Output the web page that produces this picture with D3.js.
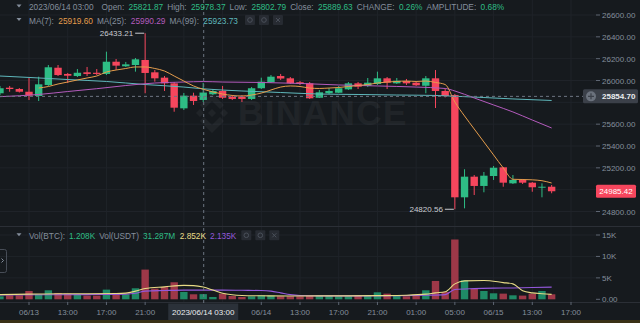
<!DOCTYPE html>
<html>
<head>
<meta charset="utf-8">
<script src="https://cdn.jsdelivr.net/npm/d3@7"></script>
<style>
    html, body { margin: 0; padding: 0; background: #161a1e; overflow: hidden; }
    svg { display: block; font-family: "Liberation Sans", Arial, sans-serif; }
</style>
</head>
<body>
<svg id="chart"></svg>
<script>
// Hourly BTC/USDT candles, hour index 0 = "06/13" tick, first visible candle = -3
const firstHour = -3;
const opens  = [25883, 25934, 25922, 25897, 25858, 25959, 26117, 26060, 26041, 26075, 26071, 26060, 26172, 26130, 26142, 26188, 26075, 26026, 25974, 25745, 25861, 25821.87, 25874, 25904, 25852, 25852, 25831, 25929, 25984, 26041, 26020, 25984, 25974, 25842, 25883, 25888, 25919, 25974, 25950, 25968, 26020, 25974, 25995, 25980, 25952, 26020, 25904, 25867, 24930, 25119, 25034, 25125, 25205, 25058, 25089, 25064, 25022, 25027];
const highs  = [25950, 25950, 25931, 26023, 26035, 26142, 26142, 26069, 26105, 26124, 26105, 26264, 26197, 26170, 26206, 26433.21, 26096, 26041, 25986, 25886, 25888, 25978.37, 25922, 25950, 25867, 25867, 25940, 26026, 26050, 26060, 26032, 25995, 25986, 25913, 25931, 25950, 25986, 25986, 26023, 26081, 26032, 26023, 26014, 25995, 26041, 26096, 25922, 25876, 25187, 25134, 25162, 25217, 25208, 25134, 25098, 25070, 25058, 25043];
const lows   = [25867, 25897, 25890, 25821, 25812, 25950, 26041, 25977, 26032, 26041, 26050, 26050, 26096, 26124, 26081, 25883, 25989, 25904, 25714, 25730, 25776, 25802.79, 25867, 25831, 25821, 25803, 25821, 25922, 25977, 26005, 25968, 25959, 25831, 25840, 25876, 25885, 25913, 25922, 25940, 25959, 25922, 25968, 25959, 25950, 25883, 25748, 25845, 24820.56, 24829, 24951, 24976, 25089, 25027, 25052, 25052, 24981, 24930, 24967];
const closes = [25929, 25922, 25897, 25861, 25965, 26121, 26050, 26044, 26071, 26060, 26060, 26172, 26136, 26148, 26194, 26069, 26020, 25974, 25751, 25861, 25812, 25889.63, 25904, 25842, 25831, 25831, 25929, 25989, 26035, 26018, 25974, 25968, 25837, 25892, 25904, 25929, 25974, 25943, 25980, 26020, 25980, 25998, 25974, 25956, 26020, 25904, 25858, 24930, 25119, 25034, 25128, 25201, 25064, 25089, 25064, 25022, 25027, 24985.42];
const volumes = [700, 930, 930, 1940, 1170, 2100, 1480, 1320, 1170, 860, 860, 2260, 1480, 1170, 2570, 6930, 2490, 2880, 3970, 1710, 1170, 1208, 540, 1320, 780, 540, 700, 930, 860, 700, 700, 700, 860, 860, 860, 700, 700, 860, 930, 1630, 1320, 860, 700, 860, 2100, 4280, 1710, 13950, 4440, 2490, 1940, 1400, 1320, 930, 860, 1320, 1940, 1170];

// Moving averages: [hour, value]
const ma7 = [[1, 25931], [2, 25945], [3, 25968], [4, 25986], [5, 26005], [6, 26023], [7, 26041], [8, 26078], [9, 26096], [10, 26110], [11, 26124], [12, 26124], [13, 26110], [14, 26087], [15, 26041], [16, 25995], [17, 25950], [18, 25919.6], [19, 25895], [20, 25876], [21, 25863], [22, 25858], [23, 25867], [24, 25885], [25, 25913], [26, 25940], [27, 25950], [28, 25945], [29, 25931], [30, 25927], [31, 25931], [32, 25936], [33, 25945], [34, 25954], [35, 25963], [36, 25977], [37, 25986], [38, 25991], [39, 25995], [40, 25991], [41, 25995], [42, 25982], [43, 25963], [44, 25803], [45, 25675], [46, 25556], [47, 25437], [48, 25318], [49, 25199], [50, 25095], [51, 25093], [52, 25090], [53, 25082], [54, 25061]];
const ma25 = [[-3, 25852], [1, 25872], [4, 25899], [7, 25925], [10, 25954], [13, 25977], [16, 25986], [18, 25990.29], [20, 25986], [24, 25982], [28, 25973], [32, 25959], [36, 25950], [40, 25940], [43, 25927], [44, 25904], [46, 25840], [48, 25776], [50, 25712], [52, 25638], [54, 25565]];
const ma99 = [[-3, 26041], [0, 26028], [4, 26009], [8, 25991], [12, 25963], [16, 25940], [18, 25923.73], [22, 25904], [26, 25890], [30, 25876], [34, 25872], [38, 25867], [42, 25863], [44, 25856], [47, 25844], [50, 25831], [54, 25817]];
const volMaFast = [[-3, 1100], [0, 1200], [3, 1300], [6, 1300], [9, 1350], [10, 1450], [11, 1900], [12, 2500], [14, 2900], [16, 3250], [17, 3200], [18, 2852], [19, 2150], [20, 1400], [21, 1050], [22, 900], [24, 820], [27, 780], [30, 800], [33, 800], [36, 850], [39, 950], [41, 1200], [42, 1500], [43, 1750], [44, 3600], [45, 4300], [47, 4400], [49, 3900], [50, 3600], [51, 2000], [52, 1500], [53, 1300], [54, 1150]];
const volMaSlow = [[-3, 1000], [2, 1050], [6, 1100], [10, 1200], [11, 1400], [12, 1900], [14, 2050], [16, 2150], [18, 2135], [20, 2150], [22, 2100], [24, 2050], [25, 1900], [26, 1500], [27, 1100], [28, 900], [30, 800], [34, 800], [38, 850], [41, 950], [43, 1100], [44, 2300], [46, 2500], [48, 2600], [50, 2650], [52, 2750], [54, 2850]];

const timeTicks = [[0, '06/13'], [4, '13:00'], [8, '17:00'], [12, '21:00'], [16, '01:00'], [20, '05:00'], [24, '06/14'], [28, '13:00'], [32, '17:00'], [36, '21:00'], [40, '01:00'], [44, '05:00'], [48, '06/15'], [52, '13:00'], [56, '17:00']];
const priceTicks = [24800, 25000, 25200, 25400, 25600, 25800, 26000, 26200, 26400, 26600];
const volTicks = [0, 5000, 10000, 15000];
const volTickLabels = ['0.00', '5K', '10K', '15K'];

const crossHour = 18;
const crossLabel = '2023/06/14 03:00';
const crossPrice = 25854.70;
const volUsdt = '31.287M';

const W = 640, H = 323;
const chartRight = 596;
const colors = {
    bg: '#161a1e', grid: '#1f2329', text: '#848e9c', up: '#2ebd85', down: '#f6465d',
    volUp: '#1f8a66', volDown: '#9e3848', ma7: '#e59d4c', ma25: '#b45bbd', ma99: '#5fb8bc',
    volFast: '#e8dc86', volSlow: '#9458dc', cross: '#6d7582'
};

const candles = opens.map((o, k) => ({
    hour: firstHour + k, open: o, high: highs[k], low: lows[k], close: closes[k], vol: volumes[k]
}));

const x = d3.scaleLinear().domain([0, 56]).range([29, 571]);
const y = d3.scaleLinear().domain([24800, 26600]).range([211.5, 15]);
const yVol = d3.scaleLinear().domain([0, 15000]).range([299.3, 235]);
const bodyW = 7.4;

const svg = d3.select('#chart').attr('width', W).attr('height', H);
svg.append('rect').attr('width', W).attr('height', H).attr('fill', colors.bg);

svg.append('defs').append('clipPath').attr('id', 'clip')
    .append('rect').attr('width', chartRight).attr('height', 302);

// Grid
const grid = svg.append('g');
grid.selectAll('line.vg').data(timeTicks).enter().append('line')
    .attr('x1', d => x(d[0])).attr('x2', d => x(d[0]))
    .attr('y1', 0).attr('y2', 302)
    .attr('stroke', colors.grid);
grid.selectAll('line.hg').data(priceTicks).enter().append('line')
    .attr('x1', 0).attr('x2', chartRight)
    .attr('y1', d => y(d)).attr('y2', d => y(d))
    .attr('stroke', colors.grid);
grid.selectAll('line.vhg').data(volTicks.slice(1)).enter().append('line')
    .attr('x1', 0).attr('x2', chartRight)
    .attr('y1', d => yVol(d)).attr('y2', d => yVol(d))
    .attr('stroke', colors.grid);

// Pane borders
svg.append('line').attr('x1', 0).attr('x2', W).attr('y1', 226.5).attr('y2', 226.5).attr('stroke', '#2b2f36');
svg.append('line').attr('x1', 0).attr('x2', W).attr('y1', 302.5).attr('y2', 302.5).attr('stroke', '#2b2f36');
svg.append('rect').attr('x', 0).attr('y', 320).attr('width', W).attr('height', 3).attr('fill', '#3a3116');

// Watermark
const wm = svg.append('g').attr('opacity', 0.045).attr('fill', '#ffffff');
const logo = wm.append('g').attr('transform', 'translate(212,113) scale(20)');
[
    [[0, -1], [0.6, -0.4], [0.4, -0.2], [0, -0.6], [-0.4, -0.2], [-0.6, -0.4]],
    [[0, 1], [0.6, 0.4], [0.4, 0.2], [0, 0.6], [-0.4, 0.2], [-0.6, 0.4]],
    [[0, -0.2], [0.2, 0], [0, 0.2], [-0.2, 0]],
    [[-0.6, -0.2], [-0.4, 0], [-0.6, 0.2], [-0.8, 0]],
    [[0.6, -0.2], [0.8, 0], [0.6, 0.2], [0.4, 0]]
].forEach(p => logo.append('polygon').attr('points', p.map(q => q.join(',')).join(' ')));
wm.append('text').attr('x', 238).attr('y', 125).attr('font-size', 35).attr('font-weight', 'bold')
    .attr('letter-spacing', 1.5).text('BINANCE');

const body = svg.append('g').attr('clip-path', 'url(#clip)');

// Volume bars
body.selectAll('rect.vol').data(candles).enter().append('rect')
    .attr('x', d => x(d.hour) - bodyW / 2)
    .attr('width', bodyW)
    .attr('y', d => yVol(d.vol))
    .attr('height', d => yVol(0) - yVol(d.vol))
    .attr('fill', d => d.close >= d.open ? colors.volUp : colors.volDown);

// Candles
const cg = body.selectAll('g.candle').data(candles).enter().append('g');
cg.append('line')
    .attr('x1', d => x(d.hour)).attr('x2', d => x(d.hour))
    .attr('y1', d => y(d.high)).attr('y2', d => y(d.low))
    .attr('stroke', d => d.close >= d.open ? colors.up : colors.down)
    .attr('stroke-width', 1);
cg.append('rect')
    .attr('x', d => x(d.hour) - bodyW / 2)
    .attr('width', bodyW)
    .attr('y', d => y(Math.max(d.open, d.close)))
    .attr('height', d => Math.max(1, Math.abs(y(d.open) - y(d.close))))
    .attr('fill', d => d.close >= d.open ? colors.up : colors.down);

// MA lines
const maLine = d3.line().x(d => x(d[0])).y(d => y(d[1])).curve(d3.curveMonotoneX);
const volLine = d3.line().x(d => x(d[0])).y(d => yVol(d[1])).curve(d3.curveMonotoneX);
[[ma99, colors.ma99], [ma25, colors.ma25], [ma7, colors.ma7]].forEach(([data, c]) => {
    body.append('path').attr('d', maLine(data)).attr('fill', 'none')
        .attr('stroke', c).attr('stroke-width', 1);
});
[[volMaSlow, colors.volSlow], [volMaFast, colors.volFast]].forEach(([data, c]) => {
    body.append('path').attr('d', volLine(data)).attr('fill', 'none')
        .attr('stroke', c).attr('stroke-width', 1.1);
});

// High / low markers
const hiC = candles.reduce((a, b) => b.high > a.high ? b : a);
const loC = candles.reduce((a, b) => b.low < a.low ? b : a);
[[hiC, hiC.high], [loC, loC.low]].forEach(([c, v]) => {
    const cx = x(c.hour), cy = y(v);
    svg.append('line').attr('x1', cx - 10).attr('x2', cx - 1).attr('y1', cy).attr('y2', cy)
        .attr('stroke', '#c9ccd1');
    svg.append('text').attr('x', cx - 12).attr('y', cy + 3).attr('text-anchor', 'end')
        .attr('font-size', 8).attr('fill', '#c9ccd1').text(v.toFixed(2));
});

// Crosshair
svg.append('line').attr('x1', x(crossHour) + 0.5).attr('x2', x(crossHour) + 0.5)
    .attr('y1', 0).attr('y2', 303)
    .attr('stroke', colors.cross).attr('stroke-dasharray', '3,3');
svg.append('line').attr('x1', 0).attr('x2', 583)
    .attr('y1', y(crossPrice)).attr('y2', y(crossPrice))
    .attr('stroke', colors.cross).attr('stroke-dasharray', '3,3');

// Right axis (labels under the price boxes are covered, as in the app)
const last = candles[candles.length - 1];
const covered = [y(last.close), y(crossPrice)];
const axis = svg.append('g').attr('font-size', 8).attr('fill', colors.text);
priceTicks.forEach(t => {
    axis.append('line').attr('x1', chartRight).attr('x2', chartRight + 4)
        .attr('y1', y(t)).attr('y2', y(t)).attr('stroke', '#5e6673');
    if (covered.some(c => Math.abs(c - y(t)) < 12)) return;
    axis.append('text').attr('x', 602).attr('y', y(t) + 3).text(t.toFixed(2));
});
volTicks.forEach((t, k) => {
    axis.append('line').attr('x1', chartRight).attr('x2', chartRight + 4)
        .attr('y1', yVol(t)).attr('y2', yVol(t)).attr('stroke', '#5e6673');
    axis.append('text').attr('x', 602).attr('y', yVol(t) + 3).text(volTickLabels[k]);
});

// Last price label
svg.append('rect').attr('x', 596).attr('y', y(last.close) - 6.5).attr('width', 40).attr('height', 13)
    .attr('rx', 1.5).attr('fill', colors.down);
svg.append('text').attr('x', 616).attr('y', y(last.close) + 3).attr('text-anchor', 'middle')
    .attr('font-size', 8).attr('fill', '#ffffff').text(last.close.toFixed(2));

// Crosshair price label
const cpy = y(crossPrice);
svg.append('rect').attr('x', 583).attr('y', cpy - 7).attr('width', 55).attr('height', 14)
    .attr('rx', 1.5).attr('fill', '#3b4049');
svg.append('circle').attr('cx', 591).attr('cy', cpy).attr('r', 5).attr('fill', '#6b727d');
svg.append('path').attr('d', `M588,${cpy}H594M591,${cpy - 3}V${cpy + 3}`)
    .attr('stroke', '#3b4049').attr('stroke-width', 1.2);
svg.append('text').attr('x', 602).attr('y', cpy + 3).attr('font-size', 8).attr('font-weight', 'bold')
    .attr('fill', '#eaecef').text(crossPrice.toFixed(2));

// Time axis
const tx = svg.append('g').attr('font-size', 8).attr('fill', colors.text).attr('text-anchor', 'middle');
const boxL = x(crossHour) - 35, boxR = x(crossHour) + 35;
timeTicks.forEach(([h, label]) => {
    const px = x(h);
    if (px > boxL - 12 && px < boxR + 12) return;
    tx.append('line').attr('x1', px).attr('x2', px).attr('y1', 302).attr('y2', 305).attr('stroke', '#5e6673');
    tx.append('text').attr('x', px).attr('y', 314.5).text(label);
});
svg.append('rect').attr('x', boxL).attr('y', 303.5).attr('width', boxR - boxL).attr('height', 16.5)
    .attr('fill', '#2b3139');
svg.append('text').attr('x', x(crossHour)).attr('y', 314.5).attr('text-anchor', 'middle')
    .attr('font-size', 8).attr('fill', '#eaecef').text(crossLabel);

// Side tab
svg.append('rect').attr('x', -3).attr('y', 249.5).attr('width', 9.5).attr('height', 23).attr('rx', 2)
    .attr('fill', 'none').attr('stroke', '#474d57');
svg.append('path').attr('d', 'M1.5,258.5 L3.5,260.5 L1.5,262.5').attr('fill', 'none').attr('stroke', '#848e9c');

// Headers: pieces are chained left to right; [text, colour, gap before]
const cc = candles.find(d => d.hour === crossHour);
const fmt = v => v.toFixed(2);
const change = (cc.close - cc.open) / cc.open * 100;
const amp = (cc.high - cc.low) / cc.open * 100;
const ccColor = cc.close >= cc.open ? colors.up : colors.down;

function header(yb, parts, iconGap) {
    const g = svg.append('g').attr('font-size', 8.3);
    g.append('path').attr('d', `M16.5,${yb - 5.5} L21.5,${yb - 5.5} L19,${yb - 2.5} Z`).attr('fill', colors.text);
    let px = 29;
    parts.forEach(([t, c, gap]) => {
        px += gap;
        const node = g.append('text').attr('x', px).attr('y', yb).attr('fill', c).text(t);
        px += node.node().getComputedTextLength();
    });
    if (iconGap === undefined) return;
    px += iconGap;
    [0, 1, 2].forEach(k => {
        const ix = px + k * 14;
        g.append('rect').attr('x', ix).attr('y', yb - 8.5).attr('width', 10).attr('height', 10)
            .attr('rx', 1).attr('fill', '#272b32');
        if (k === 2) {
            g.append('path').attr('d', `M${ix + 3},${yb - 5.5} L${ix + 7},${yb - 1.5} M${ix + 7},${yb - 5.5} L${ix + 3},${yb - 1.5}`)
                .attr('stroke', '#4a505a').attr('stroke-width', 1);
        } else {
            g.append('circle').attr('cx', ix + 5).attr('cy', yb - 3.5).attr('r', 2.3)
                .attr('fill', 'none').attr('stroke', '#4a505a');
        }
    });
}

const L = colors.text;
header(10, [
    [crossLabel, L, 0], ['Open:', L, 8], [fmt(cc.open), ccColor, 4.4],
    ['High:', L, 4], [fmt(cc.high), ccColor, 4.4],
    ['Low:', L, 4], [fmt(cc.low), ccColor, 4.4],
    ['Close:', L, 4], [fmt(cc.close), ccColor, 4.4],
    ['CHANGE:', L, 4], [change.toFixed(2) + '%', ccColor, 4.4],
    ['AMPLITUDE:', L, 4], [amp.toFixed(2) + '%', ccColor, 4.4]
]);

const maAt = (arr) => arr.find(d => d[0] === crossHour)[1];
header(23.5, [
    ['MA(7):', L, 0], [fmt(maAt(ma7)), colors.ma7, 4.4],
    ['MA(25):', L, 4], [fmt(maAt(ma25)), colors.ma25, 4.4],
    ['MA(99):', L, 4], [fmt(maAt(ma99)), colors.ma99, 4.4]
], 7);

const kfmt = v => (v / 1000).toFixed(3) + 'K';
header(238.8, [
    ['Vol(BTC):', L, 0], [kfmt(cc.vol), ccColor, 4],
    ['Vol(USDT)', L, 4], [volUsdt, ccColor, 4],
    [kfmt(maAt(volMaFast)), colors.volFast, 4.5], [kfmt(maAt(volMaSlow)), colors.volSlow, 4]
], 5);
</script>
</body>
</html>
